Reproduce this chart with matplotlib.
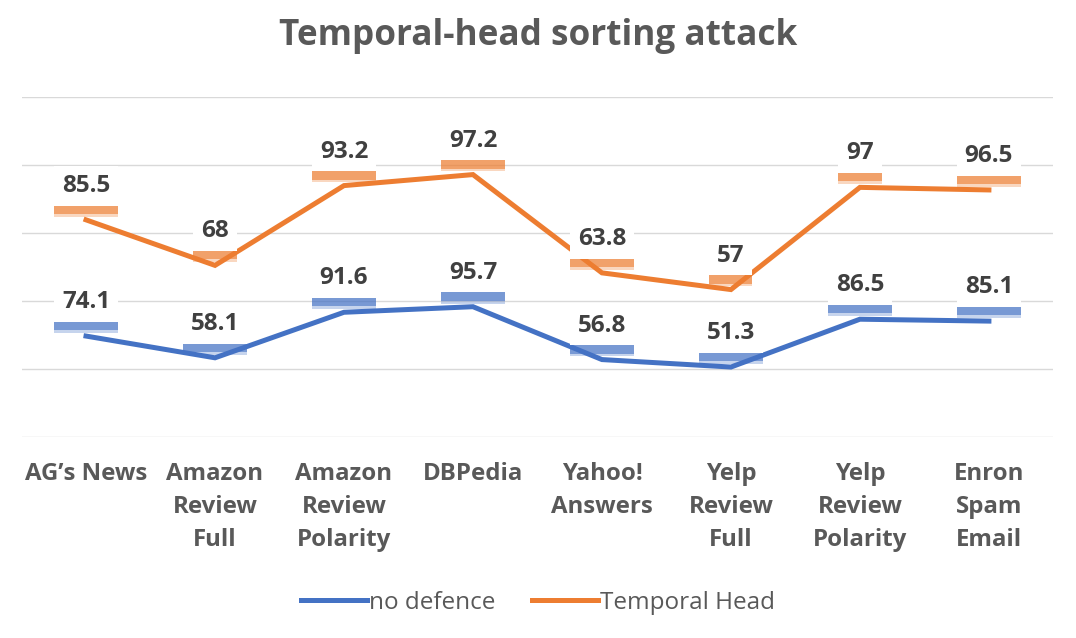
import numpy as np
import matplotlib.pyplot as plt
import matplotlib.patheffects as pe

plt.rcParams['font.family'] = ['Open Sans', 'DejaVu Sans']

categories = ["AG\u2019s News", "Amazon\nReview\nFull", "Amazon\nReview\nPolarity", "DBPedia",
              "Yahoo!\nAnswers", "Yelp\nReview\nFull", "Yelp\nReview\nPolarity", "Enron\nSpam\nEmail"]
no_defence = [74.1, 58.1, 91.6, 95.7, 56.8, 51.3, 86.5, 85.1]
temporal_head = [85.5, 68, 93.2, 97.2, 63.8, 57, 97, 96.5]

blue = '#4472C4'
orange = '#ED7D31'
grey = '#595959'

# excel stacked line chart: second series sits on top of the first
stacked = np.array(no_defence) + np.array(temporal_head)
x = np.arange(len(categories))

fig = plt.figure(figsize=(10.76, 6.38), dpi=100)
ax = fig.add_axes([0.020, 0.3154, 0.959, 0.5326])

ax.plot(x, no_defence, color=blue, lw=3.6, solid_joinstyle='miter', label='no defence', zorder=3)
ax.plot(x, stacked, color=orange, lw=3.6, solid_joinstyle='miter', label='Temporal Head', zorder=3)


def label(xi, yi, text, color):
    t = ax.annotate(text, (xi, yi), xytext=(0, 24.5), textcoords='offset points', ha='center', va='center',
                    fontsize=17.5, fontweight='bold', color='#404040',
                    bbox=dict(boxstyle='square,pad=0.32', fc='white', ec='none'), zorder=5)
    # coloured glow under the white box
    t.get_bbox_patch().set_path_effects([
        pe.SimplePatchShadow(offset=(0, -8), shadow_rgbFace=color, alpha=0.3),
        pe.SimplePatchShadow(offset=(0, -6), shadow_rgbFace=color, alpha=0.6),
        pe.Normal()])


for xi, yi, v in zip(x, no_defence, no_defence):
    label(xi, yi, f'{v:g}', blue)
for xi, yi, v in zip(x, stacked, temporal_head):
    label(xi, yi, f'{v:g}', orange)

ax.set_xlim(-0.5, len(categories) - 0.5)
ax.set_ylim(0, 250)
ax.set_yticks(np.arange(0, 251, 50))
ax.yaxis.grid(True, color='#D9D9D9', lw=1)
ax.set_axisbelow(True)
ax.tick_params(axis='y', length=0, labelleft=False)
ax.tick_params(axis='x', length=0, pad=18)
ax.set_xticks(x)
ax.set_xticklabels(categories, fontsize=17.3, fontweight='bold', color=grey, linespacing=1.52, va='top')
for s in ax.spines.values():
    s.set_visible(False)

fig.text(0.5, 0.943, 'Temporal-head sorting attack', ha='center', va='center',
         fontsize=25.3, fontweight='bold', color=grey)

fig.legend(loc='center', bbox_to_anchor=(0.5, 0.055), ncol=2, frameon=False, fontsize=17.5,
           handlelength=2.7, handletextpad=0.1, columnspacing=1.5, labelcolor=grey)

fig.savefig('out.png', dpi=100)
